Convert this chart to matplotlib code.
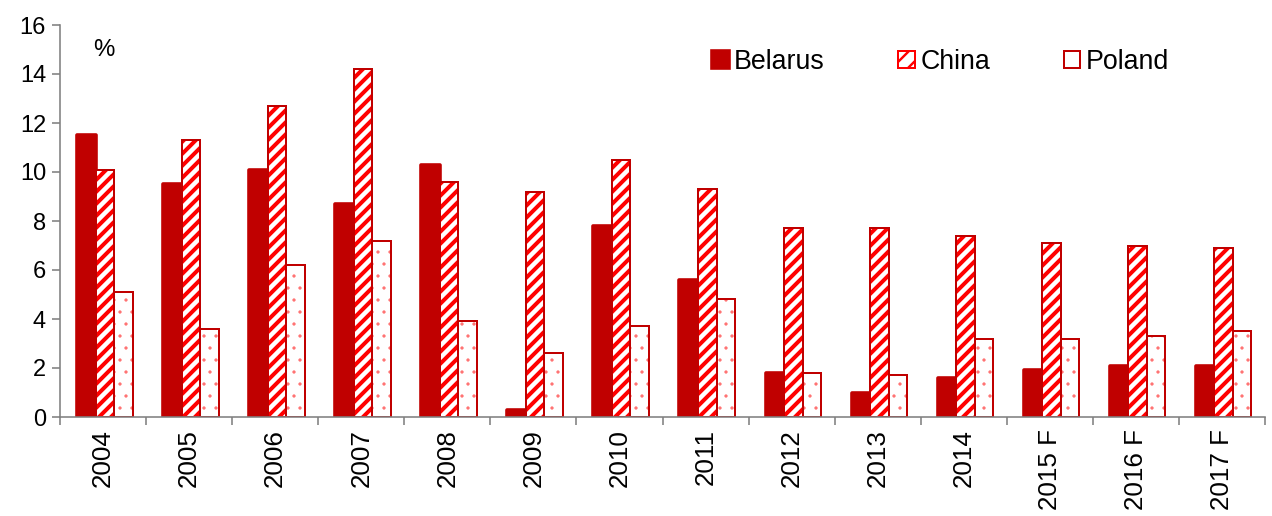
import matplotlib.pyplot as plt
import numpy as np
from matplotlib.patches import Patch

plt.rcParams['font.family'] = ['Liberation Sans', 'DejaVu Sans']
plt.rcParams['hatch.linewidth'] = 2.0

years = ['2004', '2005', '2006', '2007', '2008', '2009', '2010', '2011',
         '2012', '2013', '2014', '2015 F', '2016 F', '2017 F']
belarus = [11.5, 9.5, 10.1, 8.7, 10.3, 0.3, 7.8, 5.6, 1.8, 1.0, 1.6, 1.9, 2.1, 2.1]
china = [10.1, 11.3, 12.7, 14.2, 9.6, 9.2, 10.5, 9.3, 7.7, 7.7, 7.4, 7.1, 7.0, 6.9]
poland = [5.1, 3.6, 6.2, 7.2, 3.9, 2.6, 3.7, 4.8, 1.8, 1.7, 3.2, 3.2, 3.3, 3.5]

dark = '#c00000'
red = '#ff0000'
pink = '#ff7070'
grey = '#808080'

# dpi 144 so that the hatch spacing comes out like the original
fig = plt.figure(figsize=(1272 / 144, 516 / 144), dpi=144)
ax = fig.add_axes([60 / 1272, 1 - 417 / 516, 1205 / 1272, 392 / 516])

x = np.arange(len(years)) + 0.02
w = 0.215

ax.bar(x - w, belarus, w, color=dark, edgecolor=dark, linewidth=1.8,
       joinstyle='round')
ax.bar(x, china, w, color='white', edgecolor=red, linewidth=0, hatch='////')
ax.bar(x, china, w, color='none', edgecolor=dark, linewidth=1.0)
with plt.rc_context({'hatch.linewidth': 0.4}):
    pb = ax.bar(x + w, poland, w, color='white', edgecolor=pink, linewidth=0, hatch='..')
    for p in pb:
        if hasattr(p, 'set_hatch_linewidth'):
            p.set_hatch_linewidth(0.4)
ax.bar(x + w, poland, w, color='none', edgecolor=dark, linewidth=1.0)

with plt.rc_context({'hatch.linewidth': 1.2}):
    h1 = Patch(facecolor=dark, edgecolor=dark, linewidth=1.8, joinstyle='round')
    h2 = Patch(facecolor='white', edgecolor=red, hatch='///', linewidth=1.0)
    h3 = Patch(facecolor='white', edgecolor=dark, hatch='.', linewidth=1.0)
    ax.legend([h1, h2, h3], ['Belarus', 'China', 'Poland'], ncol=3, frameon=False,
              fontsize=13.4, loc='center left', bbox_to_anchor=(712 / 1272, 1 - 62 / 516),
              bbox_transform=fig.transFigure, borderpad=0, borderaxespad=0,
              handlelength=0.62, handleheight=0.62, handletextpad=0.2, columnspacing=2.75)

ax.text(93 / 1272, 1 - 50 / 516, '%', transform=fig.transFigure, fontsize=12,
        va='center', ha='left')

ax.set_ylim(0, 16)
ax.set_yticks(range(0, 17, 2))
ax.set_xlim(-0.5, len(years) - 0.5)
ax.set_xticks(np.arange(len(years)))
ax.set_xticklabels(years, rotation=90, fontsize=13)
ax.set_xticks(np.arange(-0.5, len(years)), minor=True)
ax.tick_params(axis='x', which='major', length=0, pad=6)
ax.tick_params(axis='x', which='minor', length=4, color=grey, width=0.8)
ax.tick_params(axis='y', labelsize=11.8, length=4, color=grey, width=0.8, pad=3)

for s in ['top', 'right']:
    ax.spines[s].set_visible(False)
ax.spines['left'].set_color(grey)
ax.spines['bottom'].set_color(grey)
ax.spines['left'].set_linewidth(0.8)
ax.spines['bottom'].set_linewidth(0.8)

fig.savefig('out.png', dpi=144)
